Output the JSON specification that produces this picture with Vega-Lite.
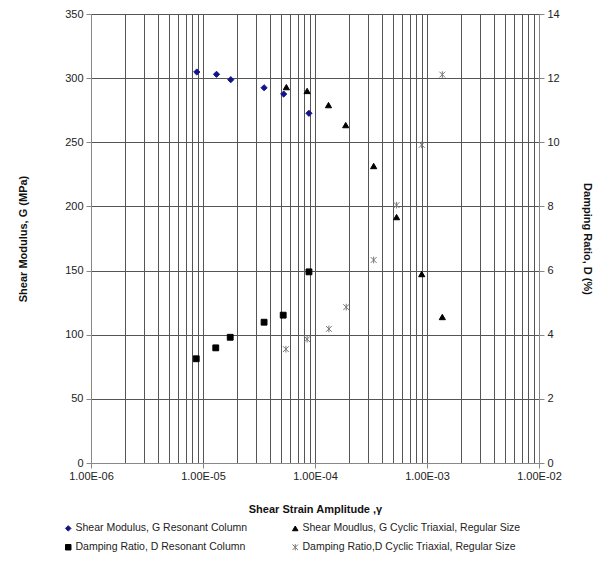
{
  "$schema": "https://vega.github.io/schema/vega-lite/v6.json",
  "width": 448,
  "height": 449,
  "autosize": "none",
  "padding": {"left": 91, "top": 14, "right": 72, "bottom": 98},
  "background": "white",
  "config": {
    "font": "Liberation Sans",
    "view": {"stroke": "#888", "strokeWidth": 1},
    "axis": {"labelFont": "Liberation Sans", "titleFont": "Liberation Sans", "labelColor": "#222", "titleColor": "#111", "labelFontSize": 11, "titleFontSize": 11, "titleFontWeight": "bold", "domainColor": "#888", "tickColor": "#888"}
  },
  "datasets": {
    "G": [
      {"strain": 8.8e-6, "value": 304.8, "series": "Shear Modulus, G Resonant Column"},
      {"strain": 1.32e-5, "value": 303, "series": "Shear Modulus, G Resonant Column"},
      {"strain": 1.77e-5, "value": 298.8, "series": "Shear Modulus, G Resonant Column"},
      {"strain": 3.51e-5, "value": 292.5, "series": "Shear Modulus, G Resonant Column"},
      {"strain": 5.25e-5, "value": 287.6, "series": "Shear Modulus, G Resonant Column"},
      {"strain": 8.83e-5, "value": 272.6, "series": "Shear Modulus, G Resonant Column"},
      {"strain": 5.55e-5, "value": 293, "series": "Shear Moudlus,  G Cyclic Triaxial, Regular Size"},
      {"strain": 8.5e-5, "value": 290, "series": "Shear Moudlus,  G Cyclic Triaxial, Regular Size"},
      {"strain": 1.32e-4, "value": 279, "series": "Shear Moudlus,  G Cyclic Triaxial, Regular Size"},
      {"strain": 1.88e-4, "value": 263.4, "series": "Shear Moudlus,  G Cyclic Triaxial, Regular Size"},
      {"strain": 3.34e-4, "value": 231.5, "series": "Shear Moudlus,  G Cyclic Triaxial, Regular Size"},
      {"strain": 5.35e-4, "value": 191.7, "series": "Shear Moudlus,  G Cyclic Triaxial, Regular Size"},
      {"strain": 8.97e-4, "value": 147.3, "series": "Shear Moudlus,  G Cyclic Triaxial, Regular Size"},
      {"strain": 1.37e-3, "value": 113.8, "series": "Shear Moudlus,  G Cyclic Triaxial, Regular Size"}
    ],
    "D": [
      {"strain": 8.7e-6, "value": 3.25, "series": "Damping Ratio, D Resonant Column"},
      {"strain": 1.30e-5, "value": 3.59, "series": "Damping Ratio, D Resonant Column"},
      {"strain": 1.75e-5, "value": 3.92, "series": "Damping Ratio, D Resonant Column"},
      {"strain": 3.51e-5, "value": 4.39, "series": "Damping Ratio, D Resonant Column"},
      {"strain": 5.2e-5, "value": 4.61, "series": "Damping Ratio, D Resonant Column"},
      {"strain": 8.83e-5, "value": 5.96, "series": "Damping Ratio, D Resonant Column"},
      {"strain": 5.5e-5, "value": 3.55, "series": "Damping Ratio,D Cyclic Triaxial, Regular Size"},
      {"strain": 8.5e-5, "value": 3.86, "series": "Damping Ratio,D Cyclic Triaxial, Regular Size"},
      {"strain": 1.33e-4, "value": 4.18, "series": "Damping Ratio,D Cyclic Triaxial, Regular Size"},
      {"strain": 1.9e-4, "value": 4.86, "series": "Damping Ratio,D Cyclic Triaxial, Regular Size"},
      {"strain": 3.34e-4, "value": 6.33, "series": "Damping Ratio,D Cyclic Triaxial, Regular Size"},
      {"strain": 5.35e-4, "value": 8.04, "series": "Damping Ratio,D Cyclic Triaxial, Regular Size"},
      {"strain": 8.97e-4, "value": 9.92, "series": "Damping Ratio,D Cyclic Triaxial, Regular Size"},
      {"strain": 1.37e-3, "value": 12.11, "series": "Damping Ratio,D Cyclic Triaxial, Regular Size"}
    ]
  },
  "encoding": {
    "x": {
      "field": "strain", "type": "quantitative",
      "scale": {"type": "log", "domain": [1e-6, 1e-2], "nice": false},
      "axis": {
        "title": "Shear Strain Amplitude ,γ",
        "titlePadding": 22,
        "values": [1e-6,2e-6,3e-6,4e-6,5e-6,6e-6,7e-6,8e-6,9e-6,1e-5,2e-5,3e-5,4e-5,5e-5,6e-5,7e-5,8e-5,9e-5,1e-4,2e-4,3e-4,4e-4,5e-4,6e-4,7e-4,8e-4,9e-4,1e-3,2e-3,3e-3,4e-3,5e-3,6e-3,7e-3,8e-3,9e-3,1e-2],
        "labelExpr": "abs(log(datum.value)/LN10 - round(log(datum.value)/LN10)) < 1e-6 ? '1.00E-0' + (-round(log(datum.value)/LN10)) : ''",
        "labelOverlap": false,
        "labelFlush": false,
        "tickSize": 5,
        "labelPadding": 2,
        "tickOpacity": {"condition": {"test": "abs(log(datum.value)/LN10 - round(log(datum.value)/LN10)) < 1e-6", "value": 1}, "value": 0},
        "grid": true, "gridColor": "#555", "gridWidth": 1, "gridOpacity": 1
      }
    },
    "shape": {
      "field": "series", "type": "nominal",
      "scale": {
        "domain": ["Shear Modulus, G Resonant Column", "Damping Ratio, D Resonant Column", "Shear Moudlus,  G Cyclic Triaxial, Regular Size", "Damping Ratio,D Cyclic Triaxial, Regular Size"],
        "range": ["diamond", "square", "triangle-up", "M-1,-1L1,1M-1,1L1,-1M0,-1.15L0,1.15"]
      },
      "legend": {
        "title": null, "orient": "none", "legendX": -28, "legendY": 509,
        "columns": 2, "columnPadding": 42, "rowPadding": 8,
        "labelFont": "Liberation Sans", "labelFontSize": 10.5, "labelColor": "#222", "labelLimit": 400,
        "symbolSize": 30, "labelOffset": 2, "symbolStrokeWidth": 1
      }
    },
    "fill": {
      "field": "series", "type": "nominal",
      "scale": {
        "domain": ["Shear Modulus, G Resonant Column", "Damping Ratio, D Resonant Column", "Shear Moudlus,  G Cyclic Triaxial, Regular Size", "Damping Ratio,D Cyclic Triaxial, Regular Size"],
        "range": ["#14148a", "#000000", "#000000", "#777777"]
      },
      "legend": null
    },
    "stroke": {
      "field": "series", "type": "nominal",
      "scale": {
        "domain": ["Shear Modulus, G Resonant Column", "Damping Ratio, D Resonant Column", "Shear Moudlus,  G Cyclic Triaxial, Regular Size", "Damping Ratio,D Cyclic Triaxial, Regular Size"],
        "range": ["#14148a", "#000000", "#000000", "#777777"]
      },
      "legend": null
    }
  },
  "layer": [
    {
      "data": {"name": "G"},
      "mark": {"type": "point", "filled": true, "opacity": 1, "size": 38, "strokeWidth": 1},
      "encoding": {
        "y": {
          "field": "value", "type": "quantitative",
          "scale": {"domain": [0, 350], "nice": false},
          "axis": {
            "orient": "left", "title": "Shear Modulus, G (MPa)", "values": [0,50,100,150,200,250,300,350],
            "titlePadding": 36, "tickSize": 5, "labelPadding": 3,
            "grid": true, "gridColor": "#555", "gridOpacity": 1
          }
        }
      }
    },
    {
      "data": {"name": "D"},
      "mark": {"type": "point", "filled": true, "opacity": 1, "size": 34, "strokeWidth": 1},
      "encoding": {
        "y": {
          "field": "value", "type": "quantitative",
          "scale": {"domain": [0, 14], "nice": false},
          "axis": {
            "orient": "right", "title": "Damping Ratio, D (%)", "values": [0,2,4,6,8,10,12,14],
            "titlePadding": 22, "tickSize": 5, "labelPadding": 3, "grid": false
          }
        }
      }
    }
  ],
  "resolve": {"scale": {"y": "independent"}}
}
